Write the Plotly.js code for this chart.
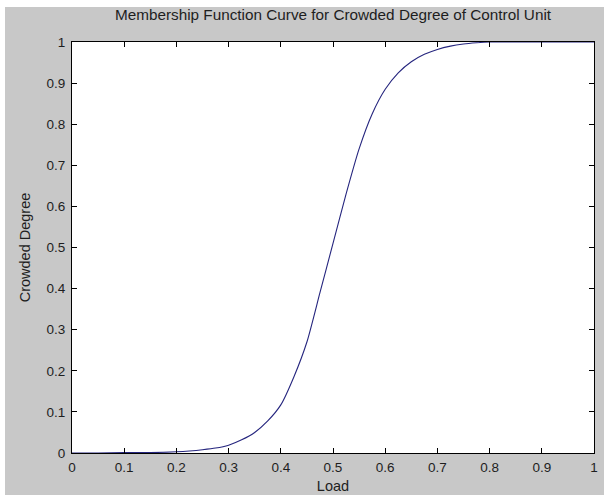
<!DOCTYPE html>
<html>
<head>
<meta charset="utf-8">
<script src="https://cdn.plot.ly/plotly-3.0.1.min.js"></script>
<style>
html, body { margin:0; padding:0; background:#ffffff; width:604px; height:495px; overflow:hidden; }
#chart { position:absolute; left:5px; top:7px; width:599px; height:488px; }
</style>
</head>
<body>
<div id="chart"></div>
<script>
const load = [0, 0.05, 0.1, 0.15, 0.2, 0.225, 0.25, 0.275, 0.3, 0.325, 0.35, 0.375, 0.4, 0.425, 0.45, 0.475, 0.5, 0.525, 0.55, 0.575, 0.6, 0.625, 0.65, 0.675, 0.7, 0.725, 0.75, 0.775, 0.8, 0.85, 0.9, 0.95, 1];
const crowded = [0, 0, 0.001, 0.001, 0.003, 0.005, 0.008, 0.012, 0.019, 0.032, 0.05, 0.078, 0.117, 0.185, 0.27, 0.39, 0.51, 0.63, 0.74, 0.825, 0.885, 0.925, 0.952, 0.97, 0.982, 0.99, 0.995, 0.998, 1, 1, 1, 1, 1];
const tickVals = [0, 0.1, 0.2, 0.3, 0.4, 0.5, 0.6, 0.7, 0.8, 0.9, 1];
const tickText = ['0', '0.1', '0.2', '0.3', '0.4', '0.5', '0.6', '0.7', '0.8', '0.9', '1'];

const fam = 'Liberation Sans, Arial, sans-serif';
const tickFont = {family: fam, size: 13.5, color: '#1e1e1e'};
const labelFont = {family: fam, size: 14.5, color: '#1e1e1e'};

const trace = {
  x: load, y: crowded, type: 'scatter', mode: 'lines',
  line: {color: '#25257e', width: 1.1, shape: 'spline', smoothing: 0.6},
  hoverinfo: 'none', cliponaxis: false
};

const axisCommon = {
  range: [0, 1], autorange: false,
  tickmode: 'array', tickvals: tickVals, ticktext: tickText,
  ticks: 'inside', ticklen: 5, tickwidth: 1, tickcolor: '#000',
  showline: true, linecolor: '#000', linewidth: 1, mirror: 'ticks',
  showgrid: false, zeroline: false,
  tickfont: tickFont, automargin: false
};

const layout = {
  width: 599, height: 488,
  paper_bgcolor: '#c8c8c8', plot_bgcolor: '#ffffff',
  margin: {l: 67, r: 10, t: 35, b: 42},
  showlegend: false,
  font: tickFont,
  title: {text: 'Membership Function Curve for Crowded Degree of Control Unit',
    font: {family: fam, size: 15.3, color: '#1e1e1e'},
    x: 0.5, xref: 'paper', xanchor: 'center', y: 0.984, yref: 'container', yanchor: 'middle'},
  xaxis: Object.assign({}, axisCommon, {
    title: {text: 'Load', font: labelFont, standoff: 6},
    ticklabelstandoff: 2
  }),
  yaxis: Object.assign({}, axisCommon, {
    title: {text: 'Crowded Degree', font: labelFont, standoff: 12},
    ticklabelstandoff: 3
  })
};

Plotly.newPlot('chart', [trace], layout, {displayModeBar: false, staticPlot: true});
</script>
</body>
</html>
